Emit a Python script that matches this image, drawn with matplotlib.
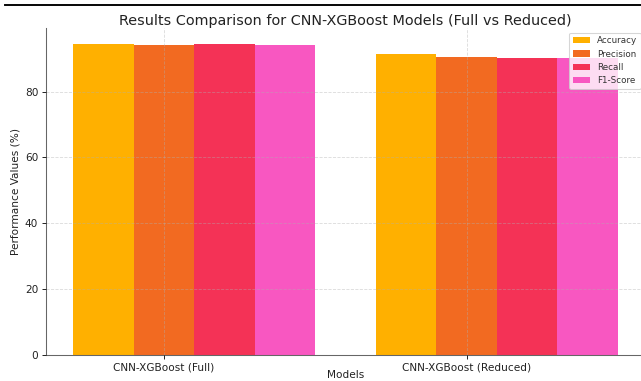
import numpy as np
import matplotlib
matplotlib.use("Agg")
import matplotlib.pyplot as plt
from matplotlib.lines import Line2D

models = ["CNN-XGBoost (Full)", "CNN-XGBoost (Reduced)"]
metrics = ["Accuracy", "Precision", "Recall", "F1-Score"]
accuracy = [94.5, 91.5]
precision = [94.1, 90.5]
recall = [94.5, 90.2]
f1_score = [94.3, 90.2]
colors = ["#FFB000", "#F26A21", "#F43256", "#F857C1"]

DPI = 76
fig = plt.figure(figsize=(641 / DPI, 381 / DPI), dpi=DPI)
ax = fig.add_axes([45.7 / 641, 26 / 381, 599.6 / 641, 326.7 / 381])

x = np.arange(len(models))
width = 0.2
series = [accuracy, precision, recall, f1_score]
for i, (vals, name, col) in enumerate(zip(series, metrics, colors)):
    ax.bar(x + (i - 1) * width, vals, width, label=name, color=col)

ax.set_xticks(x)
ax.set_xticklabels(models, color="#222222")
ax.tick_params(axis="y", labelcolor="#222222")
ax.set_xlabel("Models", labelpad=-1.8, color="#222222")
ax.set_ylabel("Performance Values (%)", color="#222222")
ax.set_title("Results Comparison for CNN-XGBoost Models (Full vs Reduced)",
             fontsize=13.6, pad=3.0, color="#222222")
leg = ax.legend(loc="upper right", fontsize="small")
for t in leg.get_texts():
    t.set_color("#333333")
ax.set_axisbelow(False)
ax.grid(True, linestyle="--", alpha=0.45)
for side in ("top", "right"):
    ax.spines[side].set_visible(False)
for side in ("left", "bottom"):
    ax.spines[side].set_color("#666666")
    ax.spines[side].set_linewidth(1.0)

# thin rule across the top of the page
fig.add_artist(Line2D([0.008, 1.0], [1 - 5 / 381, 1 - 5 / 381],
                      transform=fig.transFigure, color="black", lw=1.8))

fig.savefig("out.png", dpi=DPI)
